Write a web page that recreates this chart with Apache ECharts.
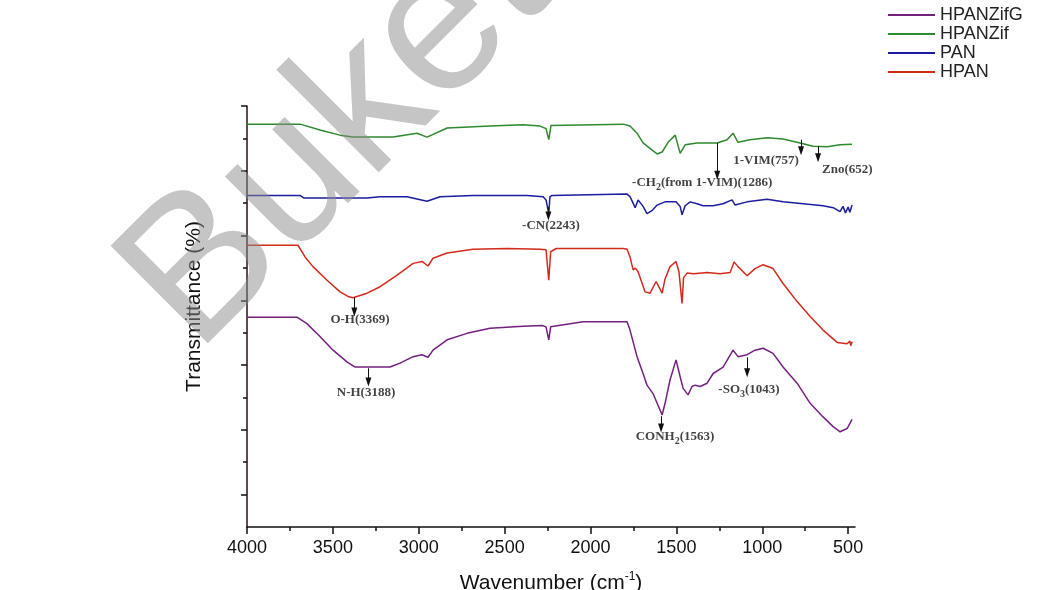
<!DOCTYPE html>
<html>
<head>
<meta charset="utf-8">
<script src="https://cdn.jsdelivr.net/npm/echarts@6/dist/echarts.min.js"></script>
<style>
html,body{margin:0;padding:0;background:#fff;}
#chart{width:1047px;height:590px;}
</style>
</head>
<body>
<div id="chart"></div>
<script>
// ---- data (wavenumber cm^-1, transmittance in offset arbitrary units) ----
const seriesNames = ['HPANZifG', 'HPANZif', 'PAN', 'HPAN'];
const seriesColors = ['#74207f', '#2e8a2e', '#1c1ca0', '#d42a1c'];

const hpanZifG = [[4000,3.24],[3709,3.24],[3651,3.14],[3575,2.94],[3499,2.73],[3418,2.55],[3371,2.47],[3191,2.47],[3167,2.47],[3109,2.53],[3033,2.63],[2981,2.66],[2946,2.62],[2917,2.73],[2835,2.89],[2719,2.99],[2585,3.07],[2393,3.10],[2280,3.11],[2259,3.09],[2243,2.89],[2232,3.09],[2224,3.12],[2043,3.17],[1787,3.17],[1770,3.04],[1729,2.63],[1694,2.37],[1671,2.19],[1660,2.22],[1636,2.06],[1583,1.73],[1566,1.91],[1537,2.27],[1502,2.58],[1478,2.32],[1461,2.14],[1450,2.17],[1432,2.04],[1409,2.17],[1390,2.19],[1362,2.17],[1321,2.22],[1286,2.37],[1228,2.47],[1170,2.73],[1141,2.63],[1088,2.66],[1042,2.73],[995,2.76],[937,2.68],[879,2.47],[797,2.22],[721,1.91],[646,1.70],[587,1.55],[547,1.47],[506,1.52],[477,1.66]];

const hpanZif = [[4000,6.22],[3691,6.22],[3575,6.13],[3459,6.05],[3383,6.02],[3150,6.02],[3010,6.08],[2952,6.02],[2835,6.16],[2585,6.19],[2393,6.21],[2294,6.19],[2259,6.15],[2243,5.98],[2230,6.20],[2224,6.21],[1810,6.22],[1770,6.19],[1729,6.08],[1694,5.93],[1665,5.87],[1641,5.82],[1612,5.76],[1583,5.79],[1548,5.94],[1507,6.05],[1500,6.08],[1478,5.77],[1467,5.74],[1449,5.90],[1379,5.93],[1286,5.93],[1263,5.93],[1205,5.98],[1170,6.08],[1141,5.94],[1071,5.98],[972,6.01],[879,5.99],[780,5.93],[704,5.88],[622,5.87],[547,5.90],[477,5.91]];

const pan = [[4000,5.12],[3691,5.12],[3670,5.08],[3650,5.08],[3301,5.08],[3225,5.10],[3068,5.10],[2952,5.03],[2876,5.10],[2684,5.12],[2369,5.12],[2276,5.10],[2259,5.05],[2243,4.84],[2236,5.10],[2224,5.12],[1787,5.14],[1770,5.10],[1752,5.00],[1740,4.93],[1723,5.05],[1694,4.95],[1671,4.84],[1640,4.89],[1612,4.97],[1566,5.02],[1502,5.02],[1478,4.95],[1467,4.82],[1449,4.96],[1420,5.02],[1379,4.99],[1345,4.96],[1286,4.96],[1228,4.99],[1176,5.05],[1158,4.97],[1088,5.02],[972,5.06],[879,5.02],[762,4.99],[646,4.96],[587,4.93],[547,4.87],[530,4.95],[515,4.85],[500,4.94],[490,4.86],[477,4.97]];

const hpan = [[4000,4.35],[3703,4.35],[3662,4.17],[3616,4.02],[3534,3.81],[3458,3.63],[3412,3.56],[3383,3.54],[3301,3.61],[3225,3.71],[3126,3.89],[3033,4.07],[2981,4.10],[2946,4.03],[2917,4.15],[2835,4.23],[2684,4.29],[2486,4.30],[2294,4.29],[2259,4.28],[2243,3.81],[2232,4.25],[2200,4.30],[1810,4.30],[1787,4.29],[1770,4.17],[1752,3.97],[1740,4.00],[1723,3.94],[1682,3.63],[1653,3.61],[1618,3.79],[1583,3.61],[1566,3.83],[1537,4.02],[1502,4.10],[1485,3.94],[1467,3.45],[1458,3.85],[1438,3.92],[1400,3.91],[1321,3.93],[1246,3.91],[1187,3.93],[1164,4.09],[1141,4.02],[1088,3.88],[1042,3.99],[995,4.05],[937,3.99],[879,3.76],[797,3.48],[721,3.25],[646,3.04],[564,2.85],[506,2.83],[490,2.87],[485,2.80],[477,2.86]];

const seriesData = [hpanZifG, hpanZif, pan, hpan];

// axis ticks
const xMajorTicks = [4000, 3500, 3000, 2500, 2000, 1500, 1000, 500];
const xMinorTicks = [3750, 3250, 2750, 2250, 1750, 1250, 750];
const yMajorTicks = [0.5, 1.5, 2.5, 3.5, 4.5, 5.5, 6.5];
const yMinorTicks = [1, 2, 3, 4, 5, 6];

// peak annotations
const annoLabels = ['-CH{s|2}(from 1-VIM)(1286)', '1-VIM(757)', 'Zno(652)', '-CN(2243)', 'O-H(3369)', 'N-H(3188)', 'CONH{s|2}(1563)', '-SO{s|3}(1043)'];
const annoLabelWn = [1350, 978, 505, 2230, 3342, 3307, 1508, 1077];
const annoLabelT = [5.31, 5.65, 5.51, 4.65, 3.20, 2.07, 1.39, 2.12];
const arrowWn = [1262, 774, 675, 2245, 3375, 3293, 1589, 1088];
const arrowFrom = [5.93, 5.98, 5.88, 4.94, 3.54, 2.45, 1.71, 2.62];
const arrowTo = [5.43, 5.81, 5.70, 4.80, 3.32, 2.24, 1.53, 2.38];

// ---- chart ----
const chart = echarts.init(document.getElementById('chart'), null, {renderer: 'canvas'});
const sans = 'Liberation Sans, Arial, sans-serif';
const serif = 'Liberation Serif, Times New Roman, serif';

const lineSeries = seriesNames.map((n, i) => ({
  name: n,
  type: 'line',
  data: seriesData[i],
  xAxisIndex: 0,
  yAxisIndex: 0,
  showSymbol: false,
  symbol: 'none',
  color: seriesColors[i],
  lineStyle: {width: 1.5, color: seriesColors[i]},
  z: 3
}));

const annoSeries = {
  name: 'annotations',
  type: 'scatter',
  xAxisIndex: 0,
  yAxisIndex: 0,
  symbolSize: 0,
  silent: true,
  z: 5,
  data: annoLabels.map((t, i) => [annoLabelWn[i], annoLabelT[i]]),
  label: {
    show: true,
    position: 'inside',
    formatter: p => '{t|' + annoLabels[p.dataIndex].replace(/\{s\|(\d)\}/g, '}{s|$1}{t|') + '}',
    rich: {
      t: {fontFamily: serif, fontWeight: 'bold', fontSize: 13, color: '#111'},
      s: {fontFamily: serif, fontWeight: 'bold', fontSize: 10, color: '#111', padding: [9, 0, 0, 0]}
    }
  },
  markLine: {
    silent: true,
    symbol: ['none', 'triangle'],
    symbolSize: [6, 9],
    label: {show: false},
    lineStyle: {color: '#111', width: 1, type: 'solid'},
    animation: false,
    data: arrowWn.map((w, i) => [{coord: [w, arrowFrom[i]]}, {coord: [w, arrowTo[i]]}])
  }
};

const option = {
  animation: false,
  backgroundColor: '#fff',
  grid: {left: 247, right: 192, top: 106, bottom: 63, containLabel: false, outerBoundsMode: 'none'},
  legend: {
    data: seriesNames,
    orient: 'vertical',
    left: 883,
    top: 1,
    icon: 'rect',
    itemWidth: 47,
    itemHeight: 2,
    itemGap: 1,
    textStyle: {fontFamily: sans, fontSize: 18, color: '#222'}
  },
  xAxis: [{
    type: 'value',
    inverse: true,
    min: 460,
    max: 4000,
    name: 'Wavenumber (cm{sup|-1})',
    nameLocation: 'middle',
    nameGap: 44,
    nameTextStyle: {
      fontFamily: sans, fontSize: 21, color: '#111',
      rich: {sup: {fontFamily: sans, fontSize: 12, color: '#111', padding: [0, 0, 12, 0]}}
    },
    axisLine: {show: true, onZero: false, lineStyle: {color: '#111', width: 1.5}},
    axisTick: {show: true, inside: false, length: 7, customValues: xMajorTicks, lineStyle: {color: '#111', width: 1.5}},
    axisLabel: {show: true, customValues: xMajorTicks, margin: 12, fontFamily: sans, fontSize: 18, color: '#111', formatter: v => String(v)},
    splitLine: {show: false}
  }, {
    type: 'value',
    inverse: true,
    min: 460,
    max: 4000,
    position: 'bottom',
    axisLine: {show: false},
    axisTick: {show: true, inside: false, length: 4, customValues: xMinorTicks, lineStyle: {color: '#111', width: 1.5}},
    axisLabel: {show: false},
    splitLine: {show: false}
  }],
  yAxis: [{
    type: 'value',
    min: 0,
    max: 6.5,
    name: 'Transmittance (%)',
    nameLocation: 'middle',
    nameGap: 42,
    nameTextStyle: {fontFamily: sans, fontSize: 21, color: '#111', padding: [0, 0, 0, 20]},
    axisLine: {show: true, onZero: false, lineStyle: {color: '#2a1010', width: 1.5}},
    axisTick: {show: true, inside: false, length: 6, customValues: yMajorTicks, lineStyle: {color: '#111', width: 1.5}},
    axisLabel: {show: false},
    splitLine: {show: false}
  }, {
    type: 'value',
    min: 0,
    max: 6.5,
    position: 'left',
    axisLine: {show: false},
    axisTick: {show: true, inside: false, length: 4, customValues: yMinorTicks, lineStyle: {color: '#111', width: 1.5}},
    axisLabel: {show: false},
    splitLine: {show: false}
  }],
  graphic: [{
    type: 'text',
    x: 338,
    y: 135,
    rotation: 45 * Math.PI / 180,
    z: 100,
    silent: true,
    style: {
      text: 'Buket',
      fontSize: 200,
      fontFamily: sans,
      fill: 'rgba(140,140,140,0.5)',
      textAlign: 'center',
      textVerticalAlign: 'middle',
      align: 'center',
      verticalAlign: 'middle'
    }
  }],
  series: lineSeries.concat([annoSeries])
};
chart.setOption(option);
</script>
</body>
</html>
